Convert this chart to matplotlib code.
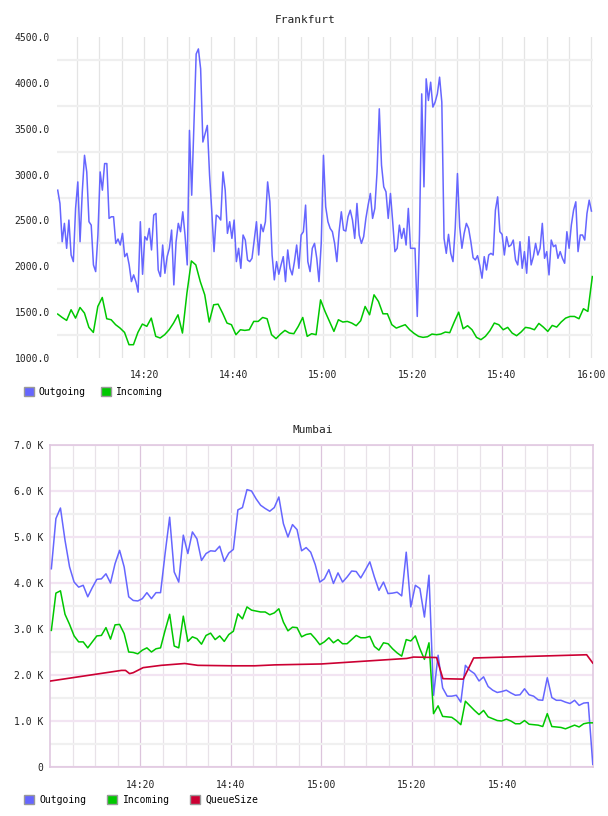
import numpy as np
import matplotlib.pyplot as plt
from matplotlib.patches import Patch

plt.rcParams['font.family'] = ['DejaVu Sans Mono']

# ---- Frankfurt (x = minutes after 14:00) ----
fra_out = [
    2830, 2685, 2268, 2468, 2196, 2504, 2123, 2051, 2631, 2920,
    2268, 2812, 3210, 3029, 2486, 2449, 2015, 1942, 2341, 3029,
    2830, 3120, 3120, 2522, 2540, 2540, 2250, 2297, 2232, 2359,
    2105, 2141, 2015, 1833, 1906, 1833, 1718, 2486, 1913, 2323,
    2286, 2413, 2178, 2558, 2576, 1960, 1888, 2232, 1924, 2105,
    2196, 2395, 1797, 2268, 2468, 2377, 2594, 2341, 2015, 3482,
    2775, 3536, 4315, 4370, 4152, 3355, 3446, 3536, 2993, 2594,
    2160, 2558, 2540, 2504, 3029, 2830, 2359, 2486, 2304, 2504,
    2051, 2196, 1978, 2341, 2286, 2069, 2051, 2087, 2286, 2486,
    2123, 2457, 2377, 2486, 2920, 2703, 2123, 1852, 2051, 1913,
    2015, 2105, 1833, 2178, 1978, 1906, 2051, 2232, 1978, 2341,
    2377, 2667, 2051, 1942, 2196, 2250, 2087, 1833, 2250, 3210,
    2649, 2486, 2413, 2377, 2250, 2051, 2377, 2594, 2395, 2384,
    2540, 2612, 2504, 2304, 2685, 2341, 2250, 2323, 2522, 2667,
    2794, 2522, 2631, 3029, 3717, 3102, 2866, 2812, 2522, 2794,
    2486, 2160, 2196, 2449, 2304, 2413, 2232, 2631, 2196, 2196,
    2196, 1453, 2341, 3880, 2866, 4044, 3808, 4007, 3736, 3790,
    3880, 4062, 3790, 2304, 2141, 2348, 2141, 2051, 2413, 3011,
    2431, 2196, 2359, 2468, 2413, 2268, 2094, 2069, 2116, 2007,
    1870, 2105, 1960, 2123, 2141, 2123, 2612, 2757, 2377, 2348,
    2123, 2323, 2214, 2232, 2286, 2069, 2015, 2268, 1978, 2160,
    1924, 2323, 2015, 2105, 2250, 2123, 2196, 2468, 2087, 2160,
    1906, 2286, 2214, 2232, 2087, 2160, 2087, 2033, 2377, 2196,
    2449, 2612, 2703, 2160, 2341, 2341, 2286, 2576, 2721, 2602,
]
fra_in = [
    1479, 1442, 1410, 1526, 1435, 1551, 1490, 1334, 1279, 1562,
    1660, 1428, 1417, 1363, 1326, 1279, 1145, 1145, 1279, 1370,
    1345, 1435, 1236, 1218, 1254, 1308, 1381, 1471, 1272, 1707,
    2058, 2015, 1833, 1689, 1392, 1580, 1587, 1490, 1381, 1363,
    1254, 1308, 1301, 1308, 1399, 1399, 1442, 1428, 1254, 1211,
    1261, 1301, 1272, 1265, 1345, 1442, 1236, 1265, 1254, 1634,
    1508, 1399, 1290, 1417, 1392, 1399, 1381, 1352, 1406, 1562,
    1471, 1689, 1616, 1482, 1482, 1363, 1326, 1345, 1363, 1308,
    1268, 1236, 1225, 1232, 1261, 1254, 1261, 1283, 1276, 1392,
    1500, 1319, 1352, 1308, 1225, 1200, 1236, 1297, 1381, 1363,
    1308, 1334, 1272, 1243, 1283, 1334, 1326, 1308, 1377, 1337,
    1290, 1355, 1337, 1392, 1435, 1453, 1453, 1428, 1537, 1508,
    1888,
]
fra_out_t = np.linspace(0.66, 120.05, len(fra_out))
fra_in_t = np.linspace(0.66, 120.25, len(fra_in))
fra_yticks = [1000, 1500, 2000, 2500, 3000, 3500, 4000, 4500]
fra_xticks = [20, 40, 60, 80, 100, 120]
fra_xlabels = ['14:20', '14:40', '15:00', '15:20', '15:40', '16:00']

# ---- Mumbai (values in K) ----
mum_out = [
    4.31, 5.40, 5.63, 4.93, 4.35, 4.02, 3.91, 3.95, 3.70, 3.90,
    4.08, 4.09, 4.20, 4.00, 4.42, 4.71, 4.35, 3.70, 3.62, 3.61,
    3.66, 3.79, 3.66, 3.79, 3.79, 4.64, 5.43, 4.24, 4.02, 5.04,
    4.64, 5.11, 4.96, 4.49, 4.64, 4.70, 4.69, 4.80, 4.47, 4.65,
    4.73, 5.59, 5.64, 6.03, 6.00, 5.83, 5.69, 5.62, 5.56, 5.64,
    5.87, 5.29, 5.00, 5.27, 5.16, 4.70, 4.77, 4.67, 4.40, 4.02,
    4.09, 4.29, 3.99, 4.22, 4.02, 4.13, 4.26, 4.25, 4.11, 4.28,
    4.46, 4.13, 3.84, 4.02, 3.77, 3.78, 3.80, 3.72, 4.67, 3.48,
    3.95, 3.88, 3.26, 4.17, 1.56, 2.43, 1.72, 1.54, 1.54, 1.56,
    1.41, 2.21, 2.10, 2.03, 1.87, 1.96, 1.75, 1.67, 1.62, 1.64,
    1.67, 1.61, 1.56, 1.57, 1.70, 1.57, 1.54, 1.46, 1.45, 1.94,
    1.51, 1.45, 1.45, 1.41, 1.38, 1.45, 1.34, 1.39, 1.40, 0.06,
]
mum_in = [
    2.97, 3.78, 3.83, 3.32, 3.10, 2.85, 2.72, 2.72, 2.59, 2.72,
    2.85, 2.86, 3.03, 2.78, 3.09, 3.10, 2.90, 2.50, 2.49, 2.46,
    2.54, 2.59, 2.50, 2.57, 2.59, 2.97, 3.32, 2.63, 2.59, 3.28,
    2.73, 2.83, 2.79, 2.67, 2.86, 2.91, 2.77, 2.85, 2.73, 2.88,
    2.95, 3.33, 3.22, 3.48, 3.41, 3.39, 3.37, 3.37, 3.31, 3.35,
    3.44, 3.15, 2.96, 3.04, 3.03, 2.83, 2.88, 2.90, 2.79, 2.66,
    2.72, 2.81, 2.70, 2.77, 2.68, 2.68, 2.77, 2.86, 2.81, 2.81,
    2.84, 2.62, 2.54, 2.70, 2.68, 2.57, 2.48, 2.41, 2.77, 2.74,
    2.85, 2.57, 2.34, 2.70, 1.16, 1.33, 1.10, 1.09, 1.08, 1.01,
    0.92, 1.43, 1.33, 1.23, 1.14, 1.23, 1.09, 1.05, 1.01, 1.00,
    1.04, 1.00, 0.94, 0.94, 1.01, 0.93, 0.92, 0.91, 0.88, 1.16,
    0.88, 0.87, 0.86, 0.83, 0.87, 0.91, 0.87, 0.94, 0.96, 0.96,
]
mum_t = np.linspace(0.3, 120.05, len(mum_out))
mum_q_t = [0.15, 15.8, 16.7, 17.6, 18.4, 20.6, 24.6, 29.8, 32.7, 40.1, 45.3,
           49.7, 60.0, 78.9, 80.4, 85.5, 86.9, 91.4, 93.7, 118.7, 120.05]
mum_q = [1.87, 2.10, 2.10, 2.03, 2.05, 2.16, 2.21, 2.25, 2.21, 2.20, 2.20,
         2.22, 2.24, 2.36, 2.39, 2.38, 1.92, 1.91, 2.37, 2.44, 2.26]
mum_yticks = [0, 1, 2, 3, 4, 5, 6, 7]
mum_ylabels = ['0', '1.0 K', '2.0 K', '3.0 K', '4.0 K', '5.0 K', '6.0 K', '7.0 K']
mum_xticks = [20, 40, 60, 80, 100]
mum_xlabels = ['14:20', '14:40', '15:00', '15:20', '15:40']

c_out = '#6666ff'
c_in = '#00c800'
c_q = '#cc0033'

fig = plt.figure(figsize=(6.08, 8.16), dpi=100)
W, H = 608, 816

# ---- top chart ----
ax1 = fig.add_axes([57 / W, 1 - 358 / H, 536 / W, 321 / H])
ax1.plot(fra_out_t, fra_out, color=c_out, lw=1.1, zorder=3)
ax1.plot(fra_in_t, fra_in, color=c_in, lw=1.1, zorder=3)
ax1.set_xlim(0.5, 120.4)
ax1.set_ylim(1000, 4500)
ax1.set_yticks(fra_yticks)
ax1.set_yticklabels([f'{v:.1f}' for v in fra_yticks])
ax1.set_yticks(np.arange(1250, 4500, 500), minor=True)
ax1.set_xticks(fra_xticks)
ax1.set_xticklabels(fra_xlabels)
ax1.set_xticks(np.arange(5, 121, 5), minor=True)
ax1.grid(which='minor', axis='y', color='#efefef', lw=1.6)
ax1.grid(which='both', axis='x', color='#e4e4e4', lw=0.9)
for s in ax1.spines.values():
    s.set_visible(False)
ax1.tick_params(which='both', length=0, labelsize=7, colors='#222222')
ax1.tick_params(axis='y', pad=5)
ax1.tick_params(axis='x', pad=9)
fig.text(305 / W, 1 - 20 / H, 'Frankfurt', ha='center', va='center', fontsize=8, color='#222222')

fig.legend(handles=[Patch(facecolor=c_out, edgecolor='#999999', label='Outgoing'),
                    Patch(facecolor=c_in, edgecolor='#999999', label='Incoming')],
           loc='center left', bbox_to_anchor=(24 / W, 1 - 392 / H), ncol=2, frameon=False,
           fontsize=7, handlelength=1.05, handleheight=1.05, handletextpad=0.45,
           columnspacing=1.6, borderaxespad=0, borderpad=0)

# ---- bottom chart ----
ax2 = fig.add_axes([50 / W, 1 - 767 / H, 543 / W, 322 / H])
ax2.plot(mum_t, mum_out, color=c_out, lw=1.1, zorder=3)
ax2.plot(mum_t, mum_in, color=c_in, lw=1.1, zorder=3)
ax2.plot(mum_q_t, mum_q, color=c_q, lw=1.2, zorder=4)
ax2.set_xlim(0, 120.1)
ax2.set_ylim(0, 7)
ax2.set_yticks(mum_yticks)
ax2.set_yticklabels(mum_ylabels)
ax2.set_yticks(np.arange(0.5, 7, 1.0), minor=True)
ax2.set_xticks(mum_xticks)
ax2.set_xticklabels(mum_xlabels)
ax2.set_xticks(np.arange(5, 120, 5), minor=True)
ax2.grid(which='major', axis='y', color='#f2e4f2', lw=1.6)
ax2.grid(which='minor', axis='y', color='#f0f0f0', lw=1.6)
ax2.grid(which='major', axis='x', color='#dcc4dc', lw=0.9)
ax2.grid(which='minor', axis='x', color='#e8e2e8', lw=0.9)
for s in ax2.spines.values():
    s.set_color('#e0c8e0')
    s.set_linewidth(1.2)
ax2.tick_params(which='both', length=0, labelsize=7, colors='#222222')
ax2.tick_params(axis='y', pad=5)
ax2.tick_params(axis='x', pad=9)
fig.text(313 / W, 1 - 430 / H, 'Mumbai', ha='center', va='center', fontsize=8, color='#222222')

fig.legend(handles=[Patch(facecolor=c_out, edgecolor='#999999', label='Outgoing'),
                    Patch(facecolor=c_in, edgecolor='#999999', label='Incoming'),
                    Patch(facecolor=c_q, edgecolor='#999999', label='QueueSize')],
           loc='center left', bbox_to_anchor=(24 / W, 1 - 800 / H), ncol=3, frameon=False,
           fontsize=7, handlelength=1.05, handleheight=1.05, handletextpad=0.55,
           columnspacing=2.1, borderaxespad=0, borderpad=0)

fig.savefig('out.png', dpi=100)
